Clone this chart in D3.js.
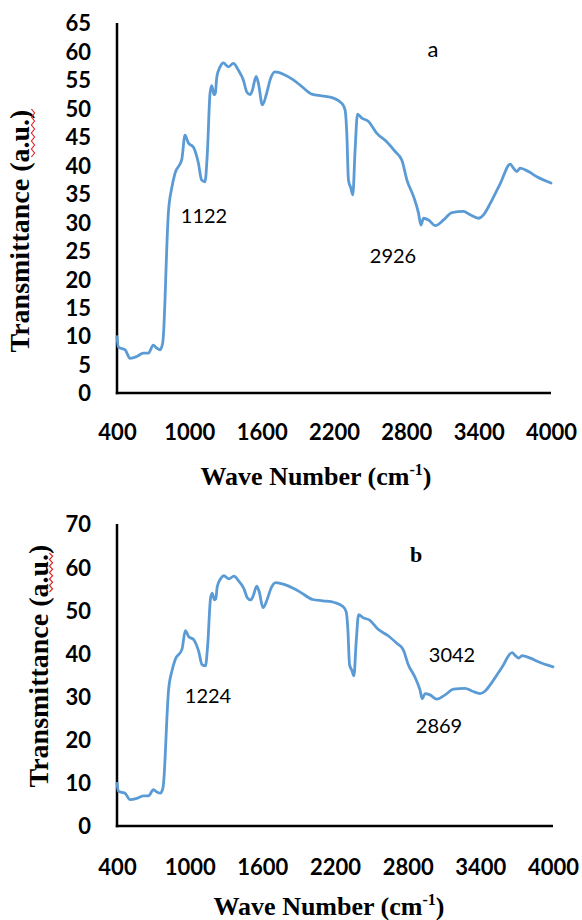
<!DOCTYPE html>
<html>
<head>
<meta charset="utf-8">
<script src="https://cdn.jsdelivr.net/npm/d3@7"></script>
<style>
  html, body { margin: 0; padding: 0; background: #fff; }
  svg { display: block; }
</style>
</head>
<body>
<svg id="chart" width="582" height="920"></svg>
<script>
// ---- data ----
const waveNumbers = [400, 411, 440, 466, 508, 563, 618, 660, 701, 729, 757, 779, 790, 798, 812, 826, 854, 881, 937, 964,
  992, 1033, 1075, 1102, 1130, 1149, 1172, 1186, 1205, 1215, 1228, 1255, 1282, 1324, 1365, 1407, 1448, 1476, 1504, 1523,
  1554, 1573, 1606, 1642, 1670, 1711, 1780, 1863, 1919, 2016, 2099, 2196, 2265, 2292, 2306, 2320, 2340, 2356, 2375, 2395,
  2431, 2486, 2556, 2639, 2708, 2763, 2805, 2860, 2901, 2921, 2943, 2984, 3040, 3109, 3178, 3274, 3330, 3399, 3440, 3496,
  3579, 3662, 3689, 3717, 3744, 3813, 3883, 4000];
const transmittanceA = [9.9, 8.1, 7.8, 7.6, 6.1, 6.4, 7.0, 7.0, 8.4, 7.9, 7.6, 8.8, 12, 16.3, 25, 31.6, 36, 38.6, 41, 45.3,
  43.9, 43.2, 40.4, 37.4, 37.1, 42, 52.7, 54, 52.4, 52.6, 55.5, 57.3, 58, 57.3, 57.9, 56.7, 55, 52.9, 52.4, 53.2,
  55.6, 54.4, 50.6, 52.7, 55, 56.4, 56, 55, 54.1, 52.5, 52.2, 51.8, 50.9, 49.7, 45.7, 37.4, 36, 34.8, 42.7, 49,
  48.3, 47.7, 45.6, 44.1, 42.4, 40.9, 37.4, 34.5, 31.6, 29.5, 30.7, 30.4, 29.4, 30.4, 31.7, 31.9, 31.3, 30.7, 31.3, 33.3,
  36.8, 40.2, 39.5, 38.9, 39.5, 38.9, 38, 36.9];
const transmittanceB = [9.9, 8.1, 7.8, 7.6, 6.1, 6.4, 7.0, 7.0, 8.4, 7.9, 7.6, 8.8, 12, 16.3, 25, 31.6, 36, 38.6, 41, 45.3,
  43.9, 43.2, 40.4, 37.4, 37.1, 42, 52.7, 54, 52.4, 52.6, 55.5, 57.3, 58, 57.3, 57.9, 56.7, 55, 52.9, 52.4, 53.2,
  55.6, 54.4, 50.6, 52.7, 55, 56.4, 56, 55, 54.1, 52.5, 52.2, 51.8, 50.9, 49.7, 45.7, 37.4, 36, 34.8, 42.7, 49,
  48.3, 47.7, 45.6, 44.1, 42.4, 40.9, 37.4, 34.5, 31.6, 29.5, 30.7, 30.4, 29.4, 30.4, 31.7, 31.9, 31.3, 30.7, 31.3, 33.3,
  36.8, 40.2, 39.5, 38.9, 39.5, 38.9, 38, 36.9];
const xTicks = [400, 1000, 1600, 2200, 2800, 3400, 4000];
const yTicksA = [0, 5, 10, 15, 20, 25, 30, 35, 40, 45, 50, 55, 60, 65];
const yTicksB = [0, 10, 20, 30, 40, 50, 60, 70];
const annotationsA = [{text: "1122", x: 204, y: 223}, {text: "2926", x: 393, y: 263}];
const annotationsB = [{text: "1224", x: 208, y: 703}, {text: "3042", x: 452, y: 662}, {text: "2869", x: 439, y: 733}];

const svg = d3.select("#chart");
const LINE = "#5B9BD5";

function panel(cfg) {
  const x = d3.scaleLinear().domain([400, 4000]).range([cfg.left, cfg.right]);
  const y = d3.scaleLinear().domain([0, cfg.ymax]).range([cfg.bottom, cfg.top]);
  const g = svg.append("g");

  // x axis
  const xa = g.append("g").attr("transform", `translate(0,${cfg.bottom})`)
    .call(d3.axisBottom(x).tickValues(xTicks).tickSize(0).tickSizeOuter(0).tickFormat(d3.format("d")));
  xa.select(".domain").remove();
  xa.selectAll("text").attr("y", cfg.xLabelOff).attr("dy", 0)
    .style("font-family", "Lato, 'Liberation Sans', sans-serif").style("font-weight", "bold")
    .style("font-size", "22px").attr("fill", "#000");

  // y axis
  const ya = g.append("g").attr("transform", `translate(${cfg.left},0)`)
    .call(d3.axisLeft(y).tickValues(cfg.yTicks).tickSize(0).tickSizeOuter(0));
  ya.select(".domain").remove();
  ya.selectAll("text").attr("x", -26).attr("dy", "0.36em")
    .style("font-family", "Lato, 'Liberation Sans', sans-serif").style("font-weight", "bold")
    .style("font-size", "22px").attr("fill", "#000");

  // axis lines
  g.append("line").attr("x1", cfg.left).attr("x2", cfg.left).attr("y1", y(cfg.ymax)).attr("y2", y(0) + 1.2)
    .attr("stroke", "#000").attr("stroke-width", 2.5);
  g.append("line").attr("x1", cfg.left - 1.2).attr("x2", x(4000)).attr("y1", y(0)).attr("y2", y(0))
    .attr("stroke", "#000").attr("stroke-width", 2.5);

  // line
  const pts = waveNumbers.map((w, i) => [w, cfg.values[i]]);
  g.append("path").datum(pts)
    .attr("d", d3.line().curve(d3.curveMonotoneX).x(d => x(d[0])).y(d => y(d[1])))
    .attr("fill", "none").attr("stroke", LINE).attr("stroke-width", 2.8)
    .attr("stroke-linejoin", "round").attr("stroke-linecap", "round");

  // annotations
  cfg.annotations.forEach(a => {
    g.append("text").attr("x", a.x).attr("y", a.y).attr("text-anchor", "middle")
      .style("font-family", "Lato, 'Open Sans', sans-serif").style("font-size", "20px").attr("fill", "#000")
      .text(a.text);
  });

  // panel letter
  g.append("text").attr("x", cfg.letter.x).attr("y", cfg.letter.y).attr("text-anchor", "middle")
    .style("font-family", cfg.letter.font).style("font-weight", cfg.letter.weight)
    .style("font-size", cfg.letter.size).attr("fill", "#000").text(cfg.letter.text);

  // y title
  g.append("text")
    .attr("transform", `translate(${cfg.yTitle.x},${cfg.yTitle.y}) rotate(-90)`)
    .attr("text-anchor", "middle")
    .style("font-family", "'Liberation Serif', 'Times New Roman', serif").style("font-weight", "bold")
    .style("font-size", "28px").attr("fill", "#000")
    .text("Transmittance (a.u.)");

  // spell-check squiggle under "a.u"
  const sq = [];
  const n = 12;
  for (let i = 0; i <= n; i++) {
    const yy = cfg.squiggle.y0 + (cfg.squiggle.y1 - cfg.squiggle.y0) * i / n;
    sq.push([cfg.squiggle.x + (i % 2 ? 1.6 : -1.6), yy]);
  }
  g.append("path").attr("d", d3.line()(sq)).attr("fill", "none")
    .attr("stroke", "#e02020").attr("stroke-width", 1.1);

  // x title
  const xt = g.append("text").attr("x", cfg.xTitle.x).attr("y", cfg.xTitle.y).attr("text-anchor", "middle")
    .style("font-family", "'Liberation Serif', 'Times New Roman', serif").style("font-weight", "bold")
    .style("font-size", "26px").attr("fill", "#000");
  xt.append("tspan").text("Wave Number (cm");
  xt.append("tspan").attr("dy", -10).style("font-size", "16px").text("-1");
  xt.append("tspan").attr("dy", 10).text(")");
}

panel({
  left: 117, right: 551, top: 23, bottom: 393, ymax: 65, yTicks: yTicksA,
  values: transmittanceA, annotations: annotationsA, xLabelOff: 47,
  letter: {text: "a", x: 433, y: 57, font: "Lato, 'Open Sans', sans-serif", weight: "normal", size: "22px"},
  yTitle: {x: 29, y: 231}, squiggle: {x: 33, y0: 109, y1: 157},
  xTitle: {x: 316, y: 485}
});

panel({
  left: 117, right: 553, top: 524, bottom: 826, ymax: 70, yTicks: yTicksB,
  values: transmittanceB, annotations: annotationsB, xLabelOff: 49,
  letter: {text: "b", x: 416, y: 562, font: "'Liberation Serif', serif", weight: "bold", size: "22px"},
  yTitle: {x: 48, y: 666}, squiggle: {x: 51, y0: 553, y1: 592},
  xTitle: {x: 329, y: 915}
});
</script>
</body>
</html>
